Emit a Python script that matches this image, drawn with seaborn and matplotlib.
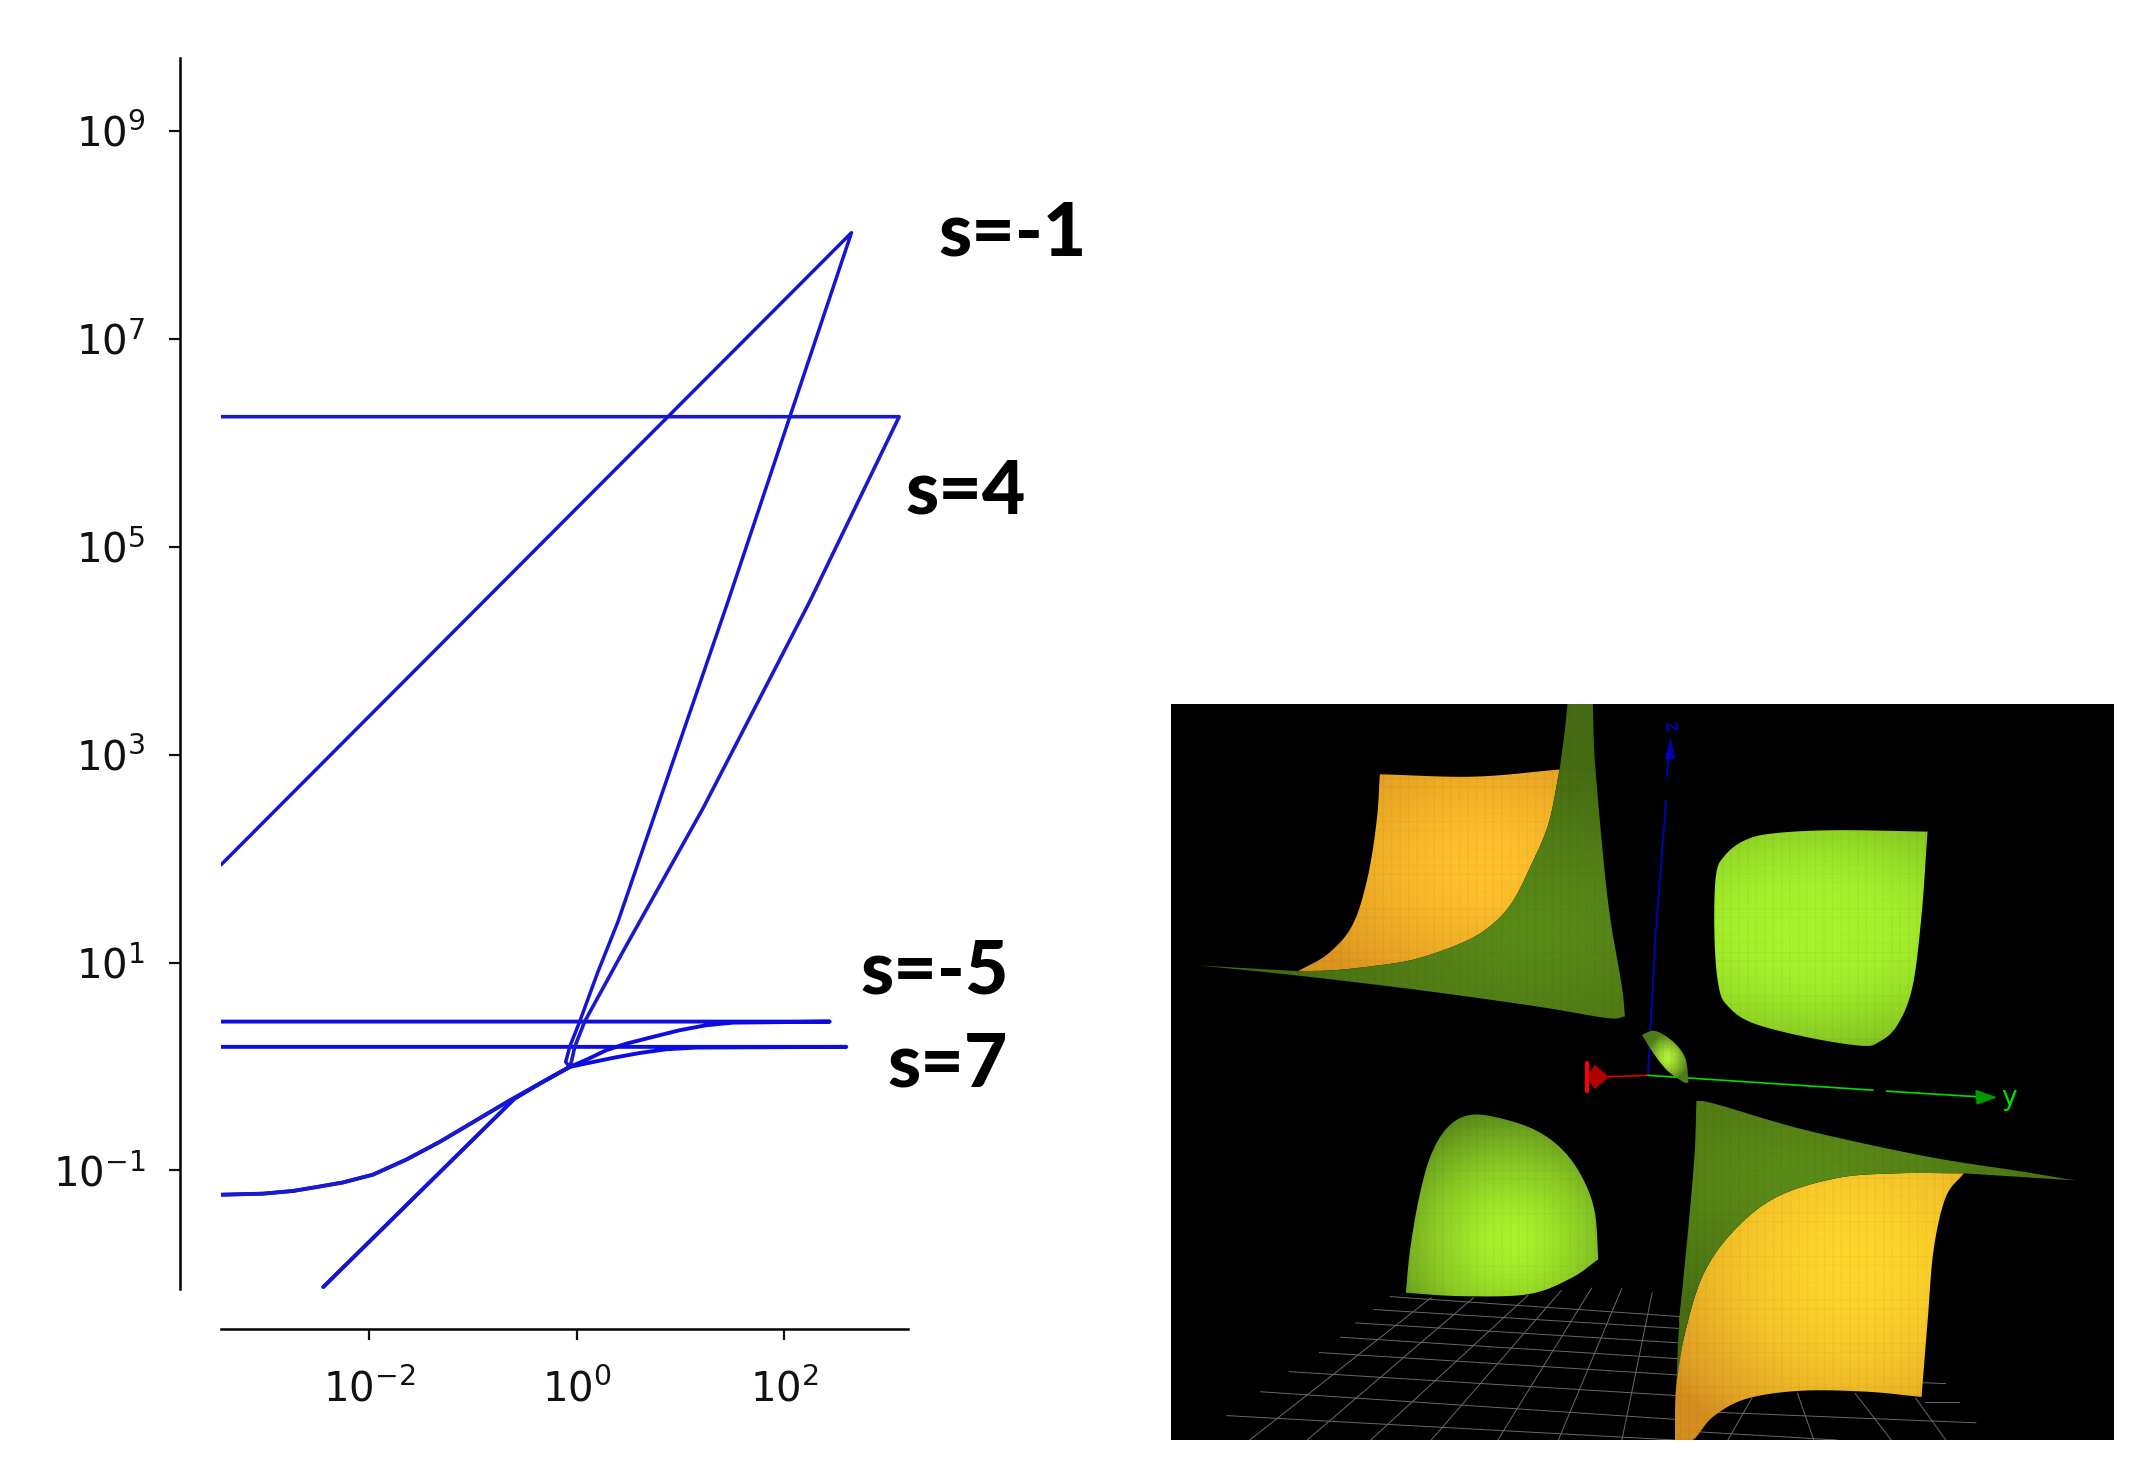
import numpy as np
import matplotlib
matplotlib.use("Agg")
import matplotlib.pyplot as plt
from matplotlib.patches import Polygon
import seaborn as sns

W, H = 2155, 1479
BLUE = "#0c0ce0"

# ---- curve data: log10(x), log10(y) ----
rise_a_lx = [2.65, 1.459, 0.398, 0.205, 0.029, -0.0675, -0.106, -0.0675]
rise_a_ly = [8.02, 4.472, 1.393, 0.911, 0.432, 0.189, 0.044, -0.004]
rise_b_lx = [3.11, 2.247, 1.218, 0.463, 0.077, -0.019, -0.051, -0.0675]
rise_b_ly = [6.25, 4.472, 2.483, 1.136, 0.432, 0.189, 0.044, -0.004]
low_flat_lx = [-0.357, -0.678, -0.999, -1.321, -1.642, -1.964, -2.253, -2.511, -2.736, -3.025, -3.426]
low_flat_ly = [-0.165, -0.345, -0.535, -0.725, -0.895, -1.04, -1.115, -1.16, -1.197, -1.223, -1.233]
low_line_lx = [-0.357, -0.60, -2.444]
low_line_ly = [-0.165, -0.31, -2.121]
ret5_lx = [2.44, 1.507, 1.25, 0.993, 0.736, 0.479, 0.286, 0.094, -0.0675]
ret5_ly = [0.432, 0.422, 0.397, 0.349, 0.285, 0.220, 0.157, 0.065, -0.004]
ret7_lx = [2.60, 1.154, 0.865, 0.608, 0.350, 0.094, -0.0675]
ret7_ly = [0.189, 0.182, 0.166, 0.130, 0.083, 0.030, -0.004]

sm1_lx = [-3.43] + rise_a_lx + low_line_lx
sm1_ly = [1.94] + rise_a_ly + low_line_ly
s4_lx = [-3.43] + rise_b_lx + low_flat_lx
s4_ly = [6.25] + rise_b_ly + low_flat_ly
sm5_lx = [-3.43] + ret5_lx + low_flat_lx
sm5_ly = [0.432] + ret5_ly + low_flat_ly
s7_lx = [-3.43] + ret7_lx + low_line_lx
s7_ly = [0.189] + ret7_ly + low_line_ly
curve_labels = ["s=-1", "s=4", "s=-5", "s=7"]
xtick_exp = [-2, 0, 2]
ytick_exp = [-1, 1, 3, 5, 7, 9]

# ---- 3D panel outlines (panel picture coordinates) ----
top_edge = [(642, 145), (624, 257), (595, 345), (561, 428), (520, 480), (471, 513), (400, 543), (336, 556), (270, 565), (210, 567)]
org_top = [[(345, 155), (500, 160), (642, 145)],
           top_edge,
           [(210, 567), (260, 530), (300, 470), (325, 370), (340, 250), (345, 155)]]
dark_top = [[(655, 8), (697, 8)],
            [(697, 8), (700, 120), (712, 300), (725, 450), (745, 600), (750, 662)],
            [(750, 662), (720, 665), (600, 640), (400, 605), (200, 575), (45, 555)],
            [(45, 555), (210, 567)],
            top_edge[::-1],
            [(642, 145), (650, 70), (655, 8)]]
green_right = [[(1250, 275), (1240, 450), (1225, 600), (1200, 680), (1170, 715), (1140, 723), (1050, 705), (960, 675),
                (920, 640), (905, 600), (898, 500), (900, 370), (915, 325), (950, 292), (1000, 278), (1100, 272), (1250, 275)]]
green_left = [[(388, 1240), (395, 1150), (410, 1040), (430, 950), (460, 890), (500, 867), (560, 880), (610, 905),
               (650, 945), (680, 1000), (700, 1070), (706, 1170)],
              [(706, 1170), (660, 1210), (590, 1243), (480, 1247), (388, 1240)]]
low_edge = [(1310, 990), (1200, 990), (1100, 1000), (1000, 1040), (930, 1110), (880, 1200), (850, 1320), (835, 1430), (832, 1548)]
org_low = [low_edge,
           [(832, 1548), (862, 1548), (895, 1500), (950, 1462), (1040, 1445), (1150, 1447), (1240, 1458)],
           [(1240, 1458), (1250, 1300), (1260, 1150), (1280, 1040), (1310, 990)]]
dark_low = [[(868, 838), (900, 845), (1050, 900), (1250, 955), (1400, 985), (1495, 1005)],
            [(1495, 1005), (1310, 990)],
            low_edge[:-1],
            [(835, 1430), (840, 1300), (855, 1100), (865, 950), (868, 838)]]
leaf = [[(778, 700), (800, 692), (830, 715), (850, 750), (855, 800)],
        [(855, 800), (848, 800), (820, 775), (795, 735), (778, 700)]]
grid_rows = [((362, 1248), (845, 1290)), ((335, 1275), (845, 1315)), ((305, 1303), (843, 1345)), ((280, 1333), (840, 1378)),
             ((245, 1365), (838, 1412)), ((195, 1405), (835, 1455)), ((148, 1447), (835, 1505)), ((92, 1497), (832, 1548)),
             ((1240, 1428), (1280, 1430)), ((1245, 1468), (1302, 1468)), ((900, 1490), (1330, 1512)), ((860, 1530), (1100, 1548))]
grid_cols = [((845, 1245), (840, 1300)), ((795, 1240), (745, 1548)), ((745, 1230), (640, 1548)), ((695, 1230), (540, 1548)),
             ((645, 1235), (430, 1548)), ((590, 1245), (330, 1548)), ((500, 1250), (225, 1548)), ((430, 1250), (130, 1548)),
             ((1035, 1450), (1062, 1548)), ((960, 1460), (920, 1548)), ((1130, 1450), (1190, 1548)), ((1230, 1460), (1280, 1548))]

sns.set_theme(style="ticks", rc={"axes.edgecolor": "black", "xtick.color": "#111111", "ytick.color": "#111111"})
plt.rcParams["font.family"] = ["DejaVu Sans"]

fig = plt.figure(figsize=(W / 100, H / 100), dpi=100, facecolor="white")


def box(l, t, r, b):
    return [l / W, 1 - b / H, (r - l) / W, (b - t) / H]


# ---------------- log-log chart ----------------
ax = fig.add_axes(box(221, 58, 908, 1289))
for lx, ly, lw, col in [(sm5_lx, sm5_ly, 2.8, BLUE), (s7_lx, s7_ly, 2.8, BLUE),
                        (s4_lx, s4_ly, 2.6, "#1a1acc"), (sm1_lx, sm1_ly, 2.5, "#1414d4")]:
    sns.lineplot(x=10.0 ** np.array(lx), y=10.0 ** np.array(ly), sort=False, estimator=None,
                 color=col, lw=lw, ax=ax)
ax.set_xscale("log")
ax.set_yscale("log")
ax.set_xlim(10.0 ** -3.43, 10.0 ** 3.195)
ax.set_ylim(10.0 ** -2.14, 10.0 ** 9.70)
ax.set_xticks([10.0 ** e for e in xtick_exp], [rf"$\mathdefault{{10^{{{e}}}}}$" for e in xtick_exp])
ax.set_yticks([10.0 ** e for e in ytick_exp], [rf"$\mathdefault{{10^{{{e}}}}}$" for e in ytick_exp])
ax.minorticks_off()
ax.tick_params(axis="both", length=8, width=1.6, labelsize=29)
ax.tick_params(axis="x", pad=21)
ax.tick_params(axis="y", pad=17)
ax.patch.set_alpha(0)
sns.despine(ax=ax)
ax.spines["left"].set_position(("outward", 29.5))
ax.spines["bottom"].set_position(("outward", 29))
ax.spines["left"].set_linewidth(1.8)
ax.spines["bottom"].set_linewidth(1.8)

label_px = [(683, 170), (659, 358), (626, 707), (646, 775)]
for name, (px, py) in zip(curve_labels, label_px):
    fig.text(px * 2155 / 1568 / W, 1 - py * 2155 / 1568 / H, name, family="Lato", weight="black",
             fontsize=54, va="center", ha="left", color="black")

# ---------------- 3D surface panel ----------------
pan = fig.add_axes(box(1171, 704, 2114, 1440), facecolor="black")
PX0, PX1, PY0, PY1 = 0, 1558, 1548, 8


def smooth(strokes, n=12):
    out = []
    for st in strokes:
        p = np.array(st, float)
        q = np.vstack([2 * p[0] - p[1], p, 2 * p[-1] - p[-2]])
        for i in range(1, len(q) - 2):
            t = np.linspace(0, 1, n, endpoint=False)[:, None]
            a, b, c, d = q[i - 1], q[i], q[i + 1], q[i + 2]
            out.append(0.5 * (2 * b + (c - a) * t + (2 * a - 5 * b + 4 * c - d) * t ** 2
                              + (3 * b - a - 3 * c + d) * t ** 3))
    return np.vstack(out)


def hexrgb(h):
    return np.array(matplotlib.colors.to_rgb(h))


def shaded(strokes, centre, radius, inner, outer, z, power=1.4, mesh=14):
    poly = smooth(strokes)
    x0, y0 = np.floor(poly.min(0))
    x1, y1 = np.ceil(poly.max(0))
    xs = np.arange(x0, x1 + 1, 1.0)
    ys = np.arange(y0, y1 + 1, 1.0)
    X, Y = np.meshgrid(xs, ys)
    t = np.clip(np.hypot((X - centre[0]) / radius[0], (Y - centre[1]) / radius[1]), 0, 1)[..., None] ** power
    rgb = hexrgb(inner) * (1 - t) + hexrgb(outer) * t
    line = ((X % (mesh * 1.0)) < 1.3) | ((Y % (mesh * 1.3)) < 1.3)
    rgb = rgb * (1 - 0.05 * line[..., None])
    im = pan.imshow(rgb, extent=(x0, x1, y1, y0), origin="upper", aspect="auto",
                    interpolation="bilinear", zorder=z)
    patch = Polygon(poly, closed=True, transform=pan.transData, facecolor="none", edgecolor="none")
    pan.add_patch(patch)
    im.set_clip_path(patch)


for (a, b) in grid_rows + grid_cols:
    pan.plot([a[0], b[0]], [a[1], b[1]], color="#6a6a6a", lw=0.7, zorder=1)

shaded(org_top, (520, 350), (330, 300), "#ffc22c", "#dc9420", 3, power=1.6)
shaded(dark_top, (600, 480), (450, 350), "#5a8a18", "#456b12", 4)
shaded(green_right, (1060, 480), (460, 340), "#a9f52c", "#5f9318", 3, power=2.2)
shaded(green_left, (560, 1130), (250, 300), "#abf32b", "#4d7a18", 3, power=1.6)
shaded(org_low, (1130, 1180), (380, 420), "#ffd62c", "#d48e20", 3, power=2.0)
shaded(dark_low, (1050, 1000), (500, 300), "#5b8b17", "#466d12", 4)
shaded(leaf, (820, 750), (35, 50), "#b4f53a", "#4f7d18", 5)

# coordinate axes of the 3D view
pan.plot([788, 800], [785, 500], color="#0000cc", lw=1.2, zorder=2)
pan.plot([800, 818], [500, 210], color="#0000cc", lw=1.2, zorder=2)
pan.plot([819, 823], [160, 110], color="#0000cc", lw=1.2, zorder=2)
pan.fill([817, 825, 832], [122, 82, 122], color="#0000b0", zorder=2)
pan.text(825, 55, "z", color="#0000e0", fontsize=14, ha="center", va="center", rotation=-80, zorder=6)
pan.plot([788, 722], [785, 788], color="#e00000", lw=1.2, zorder=2)
pan.fill([722, 700, 688, 700], [788, 765, 788, 812], color="#b00000", zorder=2)
pan.plot([687, 687], [760, 818], color="#ff0000", lw=3, zorder=2)
pan.plot([788, 1160], [785, 816], color="#00e000", lw=1.2, zorder=2)
pan.plot([1182, 1335], [818, 830], color="#00e000", lw=1.2, zorder=2)
pan.fill([1330, 1362, 1332], [817, 831, 845], color="#009a00", zorder=2)
pan.text(1385, 832, "y", color="#00e000", fontsize=19, ha="center", va="center", zorder=6)

pan.set_xlim(PX0, PX1)
pan.set_ylim(PY0, PY1)
pan.set_xticks([])
pan.set_yticks([])
for s in pan.spines.values():
    s.set_visible(False)

fig.savefig("out.png", dpi=100, facecolor="white")
